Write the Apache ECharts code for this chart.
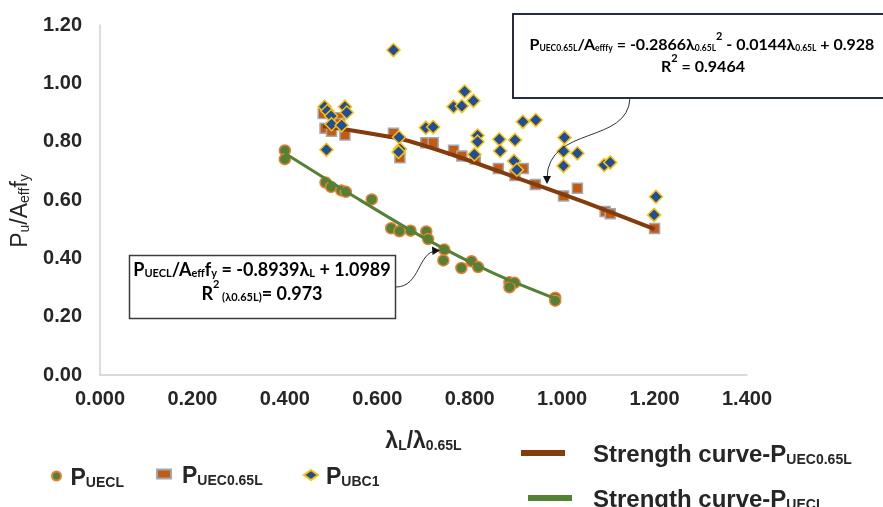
<!DOCTYPE html>
<html><head><meta charset="utf-8">
<script src="https://cdn.jsdelivr.net/npm/echarts@6/dist/echarts.min.js"></script>
<style>html,body{margin:0;padding:0;background:#fff}#c{width:883px;height:507px}</style>
</head><body><div id="c"></div>
<script>
// ---- data ----
const xRange = [0, 1.4, 0.2];
const yRange = [0, 1.2, 0.2];

const pUECL = [[0.400,0.770],[0.400,0.740],[0.488,0.660],[0.500,0.645],[0.522,0.633],[0.532,0.628],
  [0.588,0.602],[0.630,0.503],[0.648,0.493],[0.672,0.495],[0.706,0.492],[0.710,0.466],[0.745,0.430],
  [0.743,0.393],[0.782,0.367],[0.804,0.390],[0.818,0.370],[0.886,0.318],[0.897,0.316],[0.886,0.301],
  [0.985,0.265],[0.985,0.255]];

const pUEC065L = [[0.483,0.897],[0.487,0.846],[0.501,0.836],[0.516,0.882],[0.519,0.862],[0.530,0.823],
  [0.635,0.829],[0.649,0.745],[0.705,0.796],[0.721,0.796],[0.765,0.771],[0.783,0.751],[0.812,0.741],
  [0.862,0.708],[0.898,0.684],[0.916,0.708],[0.942,0.653],[1.003,0.614],[1.033,0.640],[1.093,0.561],
  [1.104,0.553],[1.200,0.502]];

const pUBC1 = [[0.486,0.920],[0.492,0.905],[0.500,0.888],[0.501,0.860],[0.530,0.920],[0.534,0.900],
  [0.523,0.856],[0.490,0.772],[0.635,1.114],[0.647,0.815],[0.649,0.775],[0.646,0.765],[0.705,0.848],
  [0.721,0.850],[0.765,0.920],[0.783,0.922],[0.789,0.972],[0.808,0.940],[0.817,0.821],[0.817,0.800],
  [0.810,0.756],[0.864,0.808],[0.898,0.806],[0.866,0.768],[0.896,0.734],[0.902,0.704],[0.915,0.868],
  [0.943,0.874],[1.005,0.814],[1.003,0.767],[1.033,0.760],[1.003,0.717],[1.091,0.720],[1.104,0.729],
  [1.203,0.611],[1.199,0.549]];

const curveUEC065L = [[0.483,0.854],[0.649,0.810],[0.772,0.750],[0.900,0.677],[1.050,0.592],[1.200,0.500]];
const curveUECL = [[0.400,0.760],[0.550,0.612],[0.700,0.471],[0.850,0.350],[0.985,0.262]];

const seriesNames = ['PUECL', 'PUEC0.65L', 'PUBC1', 'Strength curve-PUEC0.65L', 'Strength curve-PUECL'];
const legendText = {
  'PUECL': '{p|P}{s|UECL}',
  'PUEC0.65L': '{p|P}{s|UEC0.65L}',
  'PUBC1': '{p|P}{s|UBC1}',
  'Strength curve-PUEC0.65L': '{p|Strength curve-P}{s|UEC0.65L}',
  'Strength curve-PUECL': '{p|Strength curve-P}{s|UECL}'
};
const eq1 = ['{a|P}{s|UECL}{a|/A}{s|eff}{a|f}{s|y}{a| = -0.8939λ}{s|L}{a| + 1.0989}',
             '{a|R}{u|2}{s| (λ0.65L)}{a|= 0.973}'];
const eq2 = ['{a|P}{s|UEC0.65L}{a|/A}{s|efffy}{a| = -0.2866λ}{s|0.65L}{u|2}{a| - 0.0144λ}{s|0.65L}{a| + 0.928}',
             '{a|R}{u|2}{a| = 0.9464}'];

// ---- styling ----
const TXT = '#262626';
const SANS = 'Liberation Sans, Arial, sans-serif';
const EQF = 'Lato, Liberation Sans, sans-serif';

function richP(padLeft) {
  return {
    p: {fontFamily: SANS, fontSize: 23, fontWeight: 'bold', color: TXT, lineHeight: 28, verticalAlign: 'bottom', padding: [0,0,0,padLeft]},
    s: {fontFamily: SANS, fontSize: 14, fontWeight: 'bold', color: TXT, lineHeight: 19, verticalAlign: 'bottom'}
  };
}
function richL(padLeft) {
  return {
    p: {fontFamily: SANS, fontSize: 24, fontWeight: 'bold', color: TXT, lineHeight: 28, verticalAlign: 'bottom', padding: [0,0,0,padLeft]},
    s: {fontFamily: SANS, fontSize: 14, fontWeight: 'bold', color: TXT, lineHeight: 15, verticalAlign: 'bottom'}
  };
}
function legend(name, left, top, w, h, rich, icon) {
  const o = {data: [name], left: left, top: top, itemWidth: w, itemHeight: h, padding: 0,
    formatter: n => legendText[n], textStyle: {rich: rich}, selectedMode: false};
  if (icon) o.icon = icon;
  return o;
}
const eqRich1 = {
  a: {fontFamily: EQF, fontSize: 18, fontWeight: 'bold', color: '#1a1a1a', lineHeight: 24, verticalAlign: 'bottom'},
  s: {fontFamily: EQF, fontSize: 11, fontWeight: 'bold', color: '#1a1a1a', lineHeight: 10, verticalAlign: 'bottom'},
  u: {fontFamily: EQF, fontSize: 11, fontWeight: 'bold', color: '#1a1a1a', lineHeight: 16, verticalAlign: 'top'}
};
const eqRich2 = {
  a: {fontFamily: EQF, fontSize: 16, fontWeight: 'bold', color: '#1a1a1a', lineHeight: 22, verticalAlign: 'bottom'},
  s: {fontFamily: EQF, fontSize: 8.5, fontWeight: 'bold', color: '#1a1a1a', lineHeight: 8, verticalAlign: 'bottom'},
  u: {fontFamily: EQF, fontSize: 11, fontWeight: 'bold', color: '#1a1a1a', lineHeight: 16, verticalAlign: 'top'}
};

const chart = echarts.init(document.getElementById('c'), null, {renderer: 'canvas'});
chart.setOption({
  animation: false,
  backgroundColor: '#fff',
  grid: {left: 100, right: 136, top: 25, bottom: 132, containLabel: false, outerBoundsMode: 'none'},
  xAxis: {
    type: 'value', min: xRange[0], max: xRange[1], interval: xRange[2],
    axisLine: {show: true, lineStyle: {color: '#d0d0d0', width: 1.5}},
    axisTick: {show: false}, splitLine: {show: false},
    axisLabel: {formatter: v => v.toFixed(3), fontFamily: SANS, fontSize: 20, fontWeight: 'bold', color: TXT, margin: 14},
    name: '{a|λ}{b|L}{a|/λ}{b|0.65L}', nameLocation: 'middle', nameGap: 52,
    nameTextStyle: {rich: {
      a: {fontFamily: SANS, fontSize: 23, fontWeight: 'bold', color: TXT, lineHeight: 26, verticalAlign: 'bottom'},
      b: {fontFamily: SANS, fontSize: 14, fontWeight: 'bold', color: TXT, lineHeight: 14, verticalAlign: 'bottom'}
    }}
  },
  yAxis: {
    type: 'value', min: yRange[0], max: yRange[1], interval: yRange[2],
    axisLine: {show: true, lineStyle: {color: '#d0d0d0', width: 1.5}},
    axisTick: {show: false}, splitLine: {show: false},
    axisLabel: {formatter: v => v.toFixed(2), fontFamily: SANS, fontSize: 20, fontWeight: 'bold', color: TXT, margin: 18},
    name: '{a|P}{b|u}{a|/A}{b|eff}{a|f}{b|y}', nameLocation: 'middle', nameRotate: 90, nameGap: 59,
    nameTextStyle: {padding: [0, 22, 0, 0], rich: {
      a: {fontFamily: SANS, fontSize: 23, color: TXT, lineHeight: 27, verticalAlign: 'bottom'},
      b: {fontFamily: SANS, fontSize: 14, color: TXT, lineHeight: 14, verticalAlign: 'bottom'}
    }}
  },
  legend: [
    legend('PUECL', 51, 467, 14, 9, richP(2)),
    legend('PUEC0.65L', 156, 465, 14, 9, richP(6)),
    legend('PUBC1', 303, 466, 14, 10, richP(3)),
    legend('Strength curve-PUEC0.65L', 521, 443, 44, 6, richL(23), 'rect'),
    legend('Strength curve-PUECL', 528, 488, 44, 6, richL(16), 'rect')
  ],
  series: [
    {name: seriesNames[0], type: 'scatter', data: pUECL, symbol: 'circle', symbolSize: 11, z: 2,
      itemStyle: {color: '#538135', borderColor: '#ED7D31', borderWidth: 1.5, opacity: 1}},
    {name: seriesNames[1], type: 'scatter', data: pUEC065L, symbol: 'rect', symbolSize: 10, z: 2,
      itemStyle: {color: '#C55A11', borderColor: '#A0A8B8', borderWidth: 1.5, opacity: 1}},
    {name: seriesNames[3], type: 'line', data: curveUEC065L, smooth: 0.2, symbol: 'none', z: 3,
      lineStyle: {color: '#843C0C', width: 4}, itemStyle: {color: '#843C0C'}},
    {name: seriesNames[4], type: 'line', data: curveUECL, smooth: 0.3, symbol: 'none', z: 3,
      lineStyle: {color: '#548235', width: 3}, itemStyle: {color: '#548235'}},
    {name: seriesNames[2], type: 'scatter', data: pUBC1, symbol: 'diamond', symbolSize: 13, z: 4,
      itemStyle: {color: '#1F4E9A', borderColor: '#FFC000', borderWidth: 1.5, opacity: 1}}
  ],
  graphic: [
    {type: 'rect', z: 100, shape: {x: 129.5, y: 255.5, width: 266, height: 63},
      style: {fill: '#fff', stroke: '#3c3c3c', lineWidth: 1.5}},
    {type: 'text', z: 101, x: 262, y: 267, style: {text: eq1[0], rich: eqRich1, align: 'center', verticalAlign: 'middle'}},
    {type: 'text', z: 101, x: 262, y: 291, style: {text: eq1[1], rich: eqRich1, align: 'center', verticalAlign: 'middle'}},
    {type: 'bezierCurve', z: 100, shape: {x1: 396, y1: 287, cpx1: 420, cpy1: 287, cpx2: 418, cpy2: 252, x2: 436, y2: 251},
      style: {stroke: '#333', lineWidth: 1, fill: null}},
    {type: 'polygon', z: 100, shape: {points: [[440, 250.5], [432, 246.5], [432.5, 255]]}, style: {fill: '#111'}},

    {type: 'rect', z: 100, shape: {x: 513, y: 14, width: 390, height: 84},
      style: {fill: '#fff', stroke: '#252d42', lineWidth: 2}},
    {type: 'text', z: 101, x: 702, y: 42, style: {text: eq2[0], rich: eqRich2, align: 'center', verticalAlign: 'middle'}},
    {type: 'text', z: 101, x: 703, y: 64, style: {text: eq2[1], rich: eqRich2, align: 'center', verticalAlign: 'middle'}},
    {type: 'bezierCurve', z: 100, shape: {x1: 630, y1: 98, cpx1: 628, cpy1: 145, cpx2: 548, cpy2: 125, x2: 547, y2: 178},
      style: {stroke: '#333', lineWidth: 1, fill: null}},
    {type: 'polygon', z: 100, shape: {points: [[547, 184], [543, 176], [551, 176]]}, style: {fill: '#111'}}
  ]
});
</script>
</body></html>
